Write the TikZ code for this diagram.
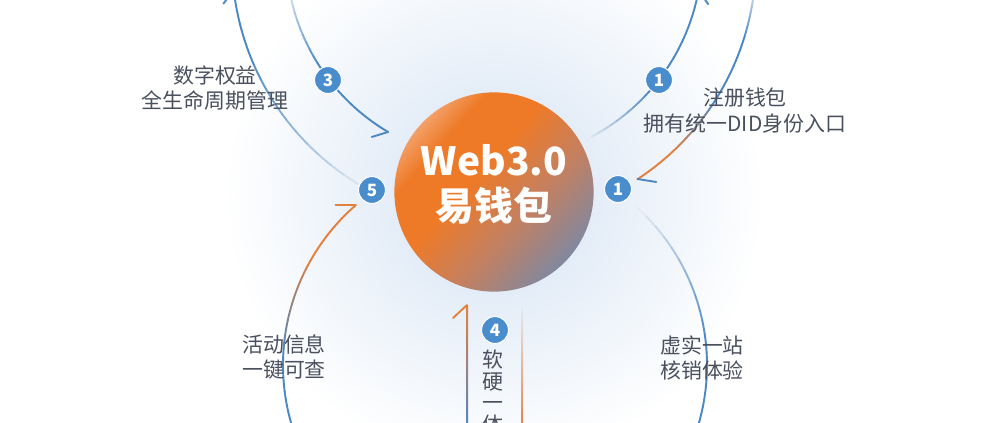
\documentclass[tikz,border=0pt]{standalone}
\usepackage{fontspec}
\setmainfont{Noto Sans CJK SC}
\usetikzlibrary{calc}
\definecolor{arcblue}{RGB}{76,136,196}
\definecolor{arcfade}{RGB}{228,235,243}
\definecolor{arcorange}{RGB}{228,128,62}
\definecolor{badgeblue}{RGB}{74,141,205}
\definecolor{txtgrey}{RGB}{74,80,94}
\definecolor{walletlight}{RGB}{243,160,104}
\definecolor{walletorange}{RGB}{238,122,40}
\definecolor{walletmid}{RGB}{196,128,96}
\definecolor{walletgrey}{RGB}{128,136,160}
\definecolor{glowblue}{RGB}{212,226,243}
\pgfdeclareverticalshading{walletshade}{100bp}{color(0bp)=(walletgrey); color(25bp)=(walletgrey); color(41bp)=(walletmid); color(56bp)=(walletorange); color(68bp)=(walletorange); color(75bp)=(walletlight); color(100bp)=(walletlight)}
\tikzset{every picture/.style={x=1bp,y=-1bp}}
\tikzset{ringline/.style={line width=1.9bp,line cap=round}}
\tikzset{barb/.style={line width=1.9bp,line cap=round}}
\tikzset{wallet/.style={circle,minimum size=200,inner sep=0pt,shading=walletshade,shading angle=48}}
\tikzset{title/.style={text=white,inner sep=0pt,font=\bfseries\fontsize{39}{46}\selectfont}}
\tikzset{badge/.style={circle,fill=badgeblue,draw=white,line width=1bp,minimum size=27,inner sep=0pt,text=white,font=\bfseries\fontsize{17}{17}\selectfont}}
\tikzset{caption/.style={align=center,text=txtgrey,inner sep=0pt,font=\fontsize{21}{26}\selectfont}}
\newcommand{\fadearc}[6]{%
  \foreach \k in {0,...,11}{%
    \pgfmathsetmacro{\ta}{#3+(#4-#3)*\k/12}%
    \pgfmathsetmacro{\tb}{#3+(#4-#3)*(\k+1)/12}%
    \pgfmathtruncatemacro{\mix}{100-100*\k/11}%
    \draw[ringline,#5!\mix!#6] (#1) ++(\ta:#2) arc[start angle=\ta,end angle=\tb,radius=#2];
  }}

\begin{document}
\begin{tikzpicture}
\useasboundingbox (0,0) rectangle (990,422);
\clip (0,0) rectangle (990,422);
\fill[white] (0,0) rectangle (990,422);
\shade[inner color=glowblue,outer color=white] (494,195) circle (270);

% upper rings
\fadearc{494,-47}{208}{172}{146}{arcfade}{arcblue}
\fadearc{494,-47}{208}{146}{120.6}{arcblue}{arcblue}
\fadearc{494,-47}{208}{64}{40}{arcfade}{arcblue}
\fadearc{494,-47}{208}{40}{10.3}{arcblue}{arcblue}
\fadearc{494,-40}{262}{118}{160}{arcfade}{arcblue}
\fadearc{494,-40}{262}{160}{173.4}{arcblue}{arcblue}
\fadearc{494,-40}{262}{5}{18}{arcfade}{arcblue}
\fadearc{494,-40}{262}{18}{32}{arcblue}{arcblue}
\fadearc{494,-40}{262}{32}{48}{arcblue}{arcorange}
\fadearc{494,-40}{262}{48}{56.8}{arcorange}{arcorange}
% lower ring
\fadearc{495,365}{212}{160}{182}{arcblue}{arcblue}
\fadearc{495,365}{212}{182}{212}{arcblue}{arcorange}
\fadearc{495,365}{212}{212}{229}{arcorange}{arcorange}
\fadearc{495,365}{212}{-48}{-5}{arcfade}{arcblue}
\fadearc{495,365}{212}{-5}{17}{arcblue}{arcblue}
\shade[top color=arcorange,middle color=arcblue!70!gray,bottom color=arcblue] (466,305) rectangle (468,430);
\shade[top color=arcfade,middle color=arcblue!70!gray,bottom color=arcorange] (521,307) rectangle (523,430);

\coordinate (tipA) at (388,132);
\coordinate (tipB) at (233.7,-10);
\coordinate (tipC) at (355.5,205);
\coordinate (tipD) at (698.6,-10);
\coordinate (tipE) at (637.5,179);
\coordinate (tipV) at (467,305);
\draw[barb,arcblue] (tipA) -- +(163:17);
\draw[barb,arcblue] (tipB) -- +(127:17);
\draw[barb,arcorange] (tipC) -- +(180:20);
\draw[barb,arcblue] (tipD) -- +(56:17);
\draw[barb,arcblue] (tipE) -- +(9:19);
\draw[barb,arcorange] (tipV) -- +(137:19);

\node[wallet] (wallet) at (494,192) {};
\node[title] (web) at (494,160) {Web3.0};
\node[title] (yqb) at (494,206) {易钱包};

\node[badge] (b3) at (328,80) {3};
\node[badge] (b5) at (372,190) {5};
\node[badge] (b1a) at (659,80) {1};
\node[badge] (b1b) at (618,189) {1};
\node[badge] (b4) at (495,330) {4};

\node[caption] (rights) at (215,88) {数字权益\\全生命周期管理};
\node[caption] (register) at (745,111) {注册钱包\\拥有统一DID身份入口};
\node[caption] (activity) at (284,357) {活动信息\\一键可查};
\node[caption] (verify) at (702,358) {虚实一站\\核销体验};
\node[caption,font=\fontsize{21}{22}\selectfont] (hwsw) at (493,392) {软\\硬\\一\\体};
\end{tikzpicture}
\end{document}
